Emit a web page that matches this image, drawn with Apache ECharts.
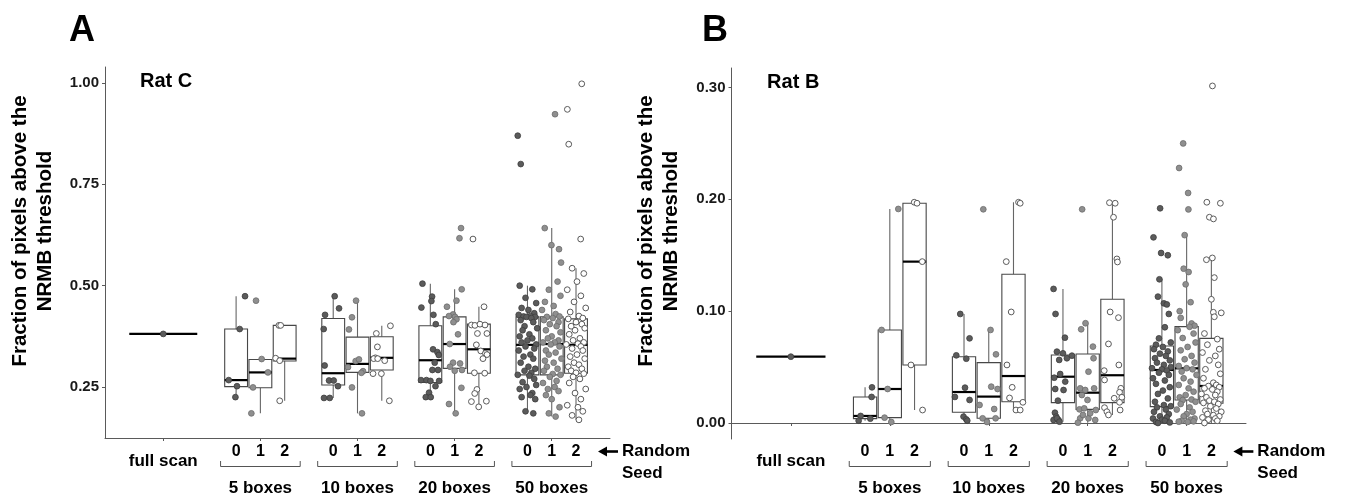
<!DOCTYPE html>
<html><head><meta charset="utf-8">
<script src="https://cdn.jsdelivr.net/npm/echarts@6/dist/echarts.min.js"></script>
<style>html,body{margin:0;padding:0;background:#fff}#c{width:1351px;height:497px}</style>
</head><body><div id="c"></div>
<script>
// ---------------- DATA ----------------
const CATEGORIES = ['full scan', '5 boxes', '10 boxes', '20 boxes', '50 boxes'];
const SEEDS = ['0', '1', '2'];
const PANELS = ['A', 'B'];
const RATS = ['Rat C', 'Rat B'];
const TICKS_A = [0.25, 0.50, 0.75, 1.00];
const TICKS_B = [0.00, 0.10, 0.20, 0.30];
const FULL_SCAN = [0.381, 0.0593];

// box stats per seed: [lowWhisker, q1, median, q3, highWhisker] for 5/10/20/50 boxes
const BOX_A_SEED0 = [[0.226,0.251,0.267,0.393,0.474],[0.223,0.255,0.284,0.419,0.474],[0.225,0.261,0.316,0.401,0.505],[0.185,0.28,0.354,0.423,0.50]];
const BOX_A_SEED1 = [[0.185,0.248,0.286,0.318,0.318],[0.185,0.286,0.307,0.373,0.463],[0.185,0.296,0.356,0.423,0.491],[0.177,0.28,0.356,0.423,0.642]];
const BOX_A_SEED2 = [[0.216,0.314,0.320,0.402,0.402],[0.216,0.292,0.322,0.374,0.401],[0.201,0.284,0.343,0.405,0.448],[0.169,0.284,0.354,0.418,0.543]];
const BOX_B_SEED0 = [[0.0021,0.0039,0.0063,0.0233,0.0319],[0.0021,0.0096,0.0277,0.0593,0.0975],[0.0012,0.0182,0.0414,0.0608,0.1199],[0.0,0.0146,0.0474,0.0689,0.1285]];
const BOX_B_SEED1 = [[0.0009,0.0048,0.0304,0.0832,0.1914],[0.0009,0.0042,0.0236,0.054,0.0832],[0.0003,0.0122,0.0271,0.0617,0.0892],[0.001,0.0206,0.0489,0.0862,0.168]];
const BOX_B_SEED2 = [[0.0116,0.0519,0.1443,0.1965,0.1974],[0.0116,0.019,0.042,0.133,0.1974],[0.0072,0.0182,0.0427,0.1106,0.197],[0.0,0.0176,0.0331,0.0757,0.1476]];

// jittered points: [jitter offset (category units), value]
const A0_5 = [[0.092,0.474],[0.037,0.393],[-0.076,0.267],[0.009,0.252],[-0.007,0.225]];
const A1_5 = [[-0.045,0.463],[0.013,0.319],[0.078,0.286],[-0.076,0.249],[-0.093,0.185]];
const A2_5 = [[-0.059,0.402],[-0.041,0.402],[-0.093,0.321],[-0.051,0.315],[-0.051,0.216]];
const A0_10 = [[0.015,0.474],[0.06,0.444],[-0.084,0.428],[-0.098,0.393],[-0.088,0.303],[-0.043,0.266],[0.005,0.266],[0.049,0.252],[-0.095,0.223],[-0.036,0.223]];
const A1_10 = [[-0.015,0.463],[-0.057,0.422],[-0.088,0.392],[-0.019,0.314],[0.015,0.318],[-0.098,0.299],[0.057,0.289],[0.04,0.285],[-0.057,0.249],[0.046,0.185]];
const A2_10 = [[0.089,0.401],[-0.056,0.382],[-0.045,0.349],[-0.066,0.322],[-0.083,0.320],[0.03,0.315],[-0.09,0.283],[-0.004,0.283],[0.078,0.216],[-0.042,0.320]];
const A0_20 = [[-0.081,0.505],[0.018,0.473],[0.011,0.462],[-0.092,0.446],[0.032,0.428],[0.056,0.405],[0.028,0.343],[0.073,0.336],[0.087,0.329],[0.045,0.31],[0.021,0.292],[0.079,0.292],[-0.096,0.267],[-0.04,0.267],[0.001,0.265],[0.09,0.265],[0.053,0.252],[-0.013,0.236],[-0.047,0.225],[0.004,0.225]];
const A1_20 = [[0.066,0.642],[0.05,0.617],[0.073,0.491],[0.019,0.463],[-0.079,0.448],[-0.016,0.429],[-0.058,0.425],[0.004,0.423],[0.019,0.417],[-0.012,0.41],[0.035,0.38],[-0.05,0.356],[-0.016,0.31],[0.056,0.308],[-0.047,0.30],[0.001,0.29],[0.076,0.292],[0.07,0.248],[-0.058,0.208],[0.011,0.185]];
const A2_20 = [[-0.061,0.615],[0.053,0.448],[-0.077,0.403],[-0.041,0.402],[0.011,0.405],[0.063,0.403],[-0.015,0.382],[0.083,0.382],[-0.026,0.354],[0.019,0.339],[0.067,0.333],[0.083,0.33],[0.042,0.32],[-0.046,0.285],[0.06,0.284],[-0.02,0.244],[-0.043,0.234],[0.077,0.215],[-0.077,0.214],[-0.002,0.201]];
const A0_50 = [[-0.10,0.87],[-0.069,0.80],
 [-0.08,0.50],[0.05,0.491],[-0.02,0.47],[0.09,0.457],[-0.06,0.445],[0.01,0.44],[0.07,0.432],[-0.09,0.428],[0.03,0.425],[-0.04,0.424],[0.08,0.423],[-0.01,0.423],
 [0.04,0.42],[-0.07,0.415],[0.06,0.41],[-0.03,0.40],[0.10,0.395],[-0.05,0.39],[0.02,0.38],[-0.08,0.375],[0.05,0.37],[0.0,0.365],[-0.06,0.36],[0.09,0.355],
 [-0.02,0.35],[0.07,0.345],[-0.09,0.34],[0.03,0.33],[-0.04,0.325],[0.06,0.32],[-0.07,0.31],[0.01,0.30],[0.08,0.295],[-0.03,0.29],[0.04,0.285],[-0.10,0.28],
 [0.02,0.278],[0.07,0.27],[-0.05,0.262],[0.09,0.255],[-0.01,0.25],[-0.08,0.245],[0.05,0.235],[0.03,0.23],[-0.06,0.225],[0.08,0.22],[-0.02,0.19],[0.06,0.185]];
const A1_50 = [[0.034,0.923],[-0.072,0.642],[-0.003,0.60],[0.075,0.59],[0.096,0.557],
 [0.06,0.51],[-0.03,0.49],[0.09,0.475],[-0.07,0.46],[0.02,0.45],[-0.10,0.44],[0.04,0.43],[0.08,0.424],
 [-0.05,0.423],[0.01,0.42],[-0.08,0.415],[0.07,0.41],[-0.02,0.405],[0.05,0.40],[-0.06,0.39],[0.09,0.385],[0.0,0.375],[-0.04,0.37],[0.07,0.365],[-0.09,0.36],[0.03,0.36],
 [-0.01,0.355],[0.08,0.35],[-0.06,0.34],[0.04,0.335],[-0.03,0.33],[0.10,0.32],[-0.07,0.315],[0.02,0.31],[-0.05,0.30],[0.06,0.295],[-0.08,0.29],[0.01,0.282],
 [0.09,0.28],[-0.02,0.275],[0.05,0.265],[-0.09,0.26],[0.03,0.25],[-0.04,0.245],[0.07,0.24],[-0.06,0.23],[0.0,0.22],[0.08,0.20],[-0.03,0.185],[0.04,0.177]];
const A2_50 = [[0.059,0.998],[-0.089,0.935],[-0.075,0.849],[0.048,0.615],
 [-0.04,0.543],[0.08,0.53],[0.01,0.51],[-0.09,0.49],[0.05,0.475],[-0.02,0.46],[0.10,0.445],[-0.06,0.435],[0.03,0.425],[0.07,0.42],
 [-0.08,0.418],[0.0,0.41],[0.06,0.405],[-0.05,0.40],[0.09,0.395],[-0.01,0.39],[-0.07,0.38],[0.04,0.37],[-0.03,0.365],[0.08,0.36],[0.02,0.357],[-0.10,0.355],
 [0.05,0.35],[-0.04,0.345],[0.07,0.34],[0.01,0.33],[-0.06,0.325],[0.09,0.32],[-0.02,0.31],[0.03,0.305],[-0.08,0.30],[0.06,0.295],[-0.05,0.29],[0.0,0.285],
 [0.08,0.283],[-0.03,0.275],[0.04,0.27],[-0.07,0.26],[0.10,0.245],[-0.01,0.235],[0.05,0.22],[-0.09,0.205],[0.02,0.20],[0.07,0.19],[-0.04,0.18],[0.03,0.169]];

const B0_5 = [[0.07,0.0319],[0.066,0.0233],[-0.045,0.0063],[0.053,0.0039],[-0.065,0.0021]];
const B1_5 = [[0.086,0.1914],[-0.083,0.0832],[-0.022,0.0304],[-0.053,0.0048],[0.015,0.0009]];
const B2_5 = [[-0.003,0.1974],[0.025,0.1965],[0.078,0.1443],[-0.036,0.0519],[0.081,0.0116]];
const B0_10 = [[-0.038,0.0975],[0.056,0.0757],[-0.078,0.0605],[0.023,0.0575],[0.01,0.0316],[-0.092,0.0233],[0.056,0.0206],[-0.005,0.0057],[0.023,0.0033],[0.033,0.0021]];
const B1_10 = [[-0.055,0.1911],[0.018,0.0832],[0.073,0.0614],[0.089,0.0304],[0.025,0.0325],[-0.093,0.0161],[0.055,0.0125],[-0.062,0.0042],[0.069,0.0042],[-0.018,0.0009]];
const B2_10 = [[0.051,0.1974],[0.068,0.1965],[-0.073,0.1443],[-0.023,0.0993],[-0.066,0.0519],[-0.013,0.0319],[-0.04,0.0224],[0.095,0.0185],[0.025,0.0116],[0.068,0.0116]];
const B0_20 = [[-0.095,0.1199],[-0.075,0.0975],[0.02,0.0763],[-0.061,0.0638],[0.0,0.0623],[0.04,0.0579],[0.091,0.0602],[-0.038,0.0564],[-0.088,0.0405],[-0.028,0.0438],[0.023,0.037],[-0.078,0.0304],[0.006,0.0295],[-0.051,0.02],[-0.081,0.0092],[-0.068,0.0057],[-0.095,0.0027],[-0.045,0.0027],[-0.061,0.0042],[-0.035,0.0012]];
const B1_20 = [[-0.056,0.1911],[-0.022,0.0892],[-0.066,0.0838],[0.053,0.0683],[0.059,0.0579],[0.008,0.0459],[0.065,0.031],[-0.076,0.031],[-0.025,0.0295],[-0.059,0.025],[-0.083,0.0122],[-0.035,0.0131],[0.082,0.0116],[0.008,0.0042],[-0.076,0.0042],[-0.099,0.0003],[0.025,0.0087],[-0.002,0.0206],[-0.048,0.0072],[0.076,0.0027]];
const B2_20 = [[-0.03,0.197],[0.028,0.1965],[0.011,0.184],[0.045,0.1467],[0.051,0.144],[-0.023,0.0993],[0.061,0.0942],[-0.04,0.0707],[-0.08,0.0385],[0.065,0.0519],[0.085,0.031],[0.072,0.0275],[0.095,0.023],[0.018,0.0221],[-0.08,0.0137],[0.078,0.0116],[-0.056,0.0101],[-0.04,0.0072],[0.072,0.0185],[-0.083,0.0468]];
const B0_50 = [[-0.018,0.192],[-0.085,0.166],[-0.008,0.152],[0.06,0.150],
 [-0.025,0.1285],[-0.04,0.113],[0.02,0.107],[0.05,0.106],[0.07,0.0975],[0.03,0.0856],[-0.03,0.0757],[0.09,0.072],[-0.06,0.07],
 [0.01,0.068],[-0.08,0.066],[0.06,0.064],[-0.02,0.062],[0.04,0.06],[-0.07,0.058],[0.08,0.056],[-0.05,0.054],[0.02,0.052],[0.09,0.05],[-0.10,0.049],[0.0,0.048],
 [0.05,0.047],[-0.03,0.045],[0.07,0.043],[-0.09,0.04],[0.03,0.038],[-0.06,0.035],[0.08,0.032],[0.01,0.029],[-0.04,0.026],[0.06,0.022],[-0.07,0.019],[0.02,0.016],[0.09,0.015],
 [-0.05,0.014],[0.04,0.012],[-0.08,0.01],[0.07,0.008],[-0.02,0.006],[0.05,0.005],[-0.09,0.004],[0.0,0.003],[0.03,0.002],[-0.06,0.001],[0.08,0.0005],[-0.04,0.0]];
const B1_50 = [[-0.035,0.25],[-0.076,0.228],[0.015,0.2057],[0.018,0.191],
 [-0.02,0.168],[-0.03,0.138],[0.02,0.135],[-0.01,0.124],[0.04,0.108],[-0.07,0.10],[-0.06,0.094],[0.05,0.089],[0.08,0.087],
 [0.03,0.086],[-0.09,0.083],[0.07,0.08],[-0.04,0.076],[0.09,0.072],[0.01,0.068],[-0.06,0.065],[0.05,0.06],[-0.02,0.057],[0.08,0.054],[-0.08,0.051],[0.0,0.049],
 [0.06,0.048],[-0.05,0.046],[0.10,0.043],[-0.03,0.04],[0.04,0.037],[-0.08,0.034],[0.02,0.031],[0.07,0.028],[-0.01,0.025],[-0.07,0.023],[0.05,0.021],[-0.04,0.0205],
 [0.09,0.019],[-0.06,0.017],[0.03,0.014],[-0.10,0.012],[0.06,0.01],[0.0,0.008],[-0.03,0.006],[0.08,0.004],[0.04,0.003],[-0.05,0.002],[0.07,0.0015],[-0.08,0.0012],[0.01,0.001]];
const B2_50 = [[0.011,0.3014],[-0.046,0.1974],[0.091,0.1965],[-0.02,0.184],[0.021,0.1825],
 [0.01,0.1476],[-0.05,0.146],[0.03,0.13],[0.0,0.1106],[0.02,0.099],[0.10,0.0985],[0.03,0.095],[-0.07,0.08],
 [0.06,0.075],[-0.04,0.07],[0.08,0.066],[-0.09,0.063],[0.04,0.06],[-0.02,0.056],[0.07,0.052],[-0.06,0.048],[0.09,0.044],[-0.08,0.04],[0.02,0.036],[0.05,0.034],
 [-0.03,0.033],[0.08,0.032],[-0.07,0.031],[0.01,0.03],[0.06,0.028],[-0.10,0.026],[0.04,0.025],[-0.05,0.023],[0.09,0.021],[-0.02,0.02],[0.03,0.019],[-0.08,0.018],
 [0.07,0.017],[-0.01,0.015],[0.05,0.013],[-0.06,0.011],[0.10,0.01],[-0.04,0.008],[0.02,0.007],[0.08,0.006],[-0.09,0.005],[0.04,0.004],[-0.03,0.003],[0.06,0.002],[-0.07,0.0]];

// ---------------- CHART ----------------
const PTS = [
  [[A0_5, A0_10, A0_20, A0_50], [A1_5, A1_10, A1_20, A1_50], [A2_5, A2_10, A2_20, A2_50]],
  [[B0_5, B0_10, B0_20, B0_50], [B1_5, B1_10, B1_20, B1_50], [B2_5, B2_10, B2_20, B2_50]]
];
const BOXES = [[BOX_A_SEED0, BOX_A_SEED1, BOX_A_SEED2], [BOX_B_SEED0, BOX_B_SEED1, BOX_B_SEED2]];
const TICKS = [TICKS_A, TICKS_B];
const YRANGE = [[0.12418, 1.03947], [-0.01431, 0.31744]];
const SLOT = 0.25, BOXW = 0.235, FULLW = 0.7;
const FONT = '"Liberation Sans", Arial, Helvetica, sans-serif';
const PT_STYLE = [
  {color: '#5b5b5b', borderColor: '#3d3d3d', borderWidth: 0.8},
  {color: '#8f8f8f', borderColor: '#6c6c6c', borderWidth: 0.8},
  {color: '#ffffff', borderColor: '#5a5a5a', borderWidth: 1}
];

const chart = echarts.init(document.getElementById('c'), null, {renderer: 'canvas'});

function renderBox(params, api) {
  const x = api.value(0), lo = api.value(1), q1 = api.value(2), md = api.value(3), q3 = api.value(4), hi = api.value(5), w = api.value(6) / 2;
  const tl = api.coord([x - w, q3]), br = api.coord([x + w, q1]);
  const cx = api.coord([x, q1])[0];
  const pHi = api.coord([x, hi]), pLo = api.coord([x, lo]);
  const mL = api.coord([x - w, md]), mR = api.coord([x + w, md]);
  const ch = [];
  if (hi > q3) ch.push({type: 'line', shape: {x1: cx, y1: pHi[1], x2: cx, y2: tl[1]}, style: {stroke: '#666', lineWidth: 1.1}});
  if (lo < q1) ch.push({type: 'line', shape: {x1: cx, y1: br[1], x2: cx, y2: pLo[1]}, style: {stroke: '#666', lineWidth: 1.1}});
  if (q3 > q1) ch.push({type: 'rect', shape: {x: tl[0], y: tl[1], width: br[0] - tl[0], height: br[1] - tl[1]}, style: {fill: '#fff', stroke: '#474747', lineWidth: 1.1}});
  ch.push({type: 'line', shape: {x1: mL[0], y1: mL[1], x2: mR[0], y2: mR[1]}, style: {stroke: '#000', lineWidth: 2.2}});
  return {type: 'group', children: ch};
}

const grids = [
  {left: 105, top: 67, width: 505, height: 371},
  {left: 731.5, top: 68, width: 514.5, height: 371}
];
const xAxes = [], yAxes = [], series = [];
[0, 1].forEach(p => {
  xAxes.push({
    type: 'value', gridIndex: p, min: 0.4, max: 5.6,
    axisLine: {show: true, lineStyle: {color: '#5a5a5a', width: 1}},
    axisTick: {show: true, length: 3, customValues: [1, 2, 3, 4, 5], lineStyle: {color: '#5a5a5a'}},
    axisLabel: {show: false}, splitLine: {show: false}
  });
  yAxes.push({
    type: 'value', gridIndex: p, min: YRANGE[p][0], max: YRANGE[p][1],
    axisLine: {show: true, lineStyle: {color: '#5a5a5a', width: 1}},
    axisTick: {show: true, length: 3, customValues: TICKS[p], lineStyle: {color: '#5a5a5a'}},
    axisLabel: {customValues: TICKS[p], formatter: v => v.toFixed(2), fontSize: 15, fontWeight: 'bold', color: '#1a1a1a', fontFamily: FONT, margin: 6},
    splitLine: {show: false}
  });
  // boxes
  const boxData = [[1, FULL_SCAN[p], FULL_SCAN[p], FULL_SCAN[p], FULL_SCAN[p], FULL_SCAN[p], FULLW]];
  BOXES[p].forEach((seedBoxes, s) => {
    seedBoxes.forEach((b, g) => {
      boxData.push([g + 2 + (s - 1) * SLOT, b[0], b[1], b[2], b[3], b[4], BOXW]);
    });
  });
  series.push({type: 'custom', xAxisIndex: p, yAxisIndex: p, renderItem: renderBox, data: boxData, encode: {x: 0, y: 1}, z: 2, silent: true});
  // points
  PTS[p].forEach((seedGroups, s) => {
    const data = [];
    if (s === 0) data.push([1, FULL_SCAN[p]]);
    seedGroups.forEach((grp, g) => {
      grp.forEach(pt => data.push([g + 2 + (s - 1) * SLOT + pt[0], pt[1]]));
    });
    series.push({type: 'scatter', name: 'seed ' + SEEDS[s], xAxisIndex: p, yAxisIndex: p, data,
      symbol: 'circle', symbolSize: 5.8, itemStyle: Object.assign({opacity: 1}, PT_STYLE[s]), z: 5, silent: true});
  });
});

chart.setOption({animation: false, grid: grids, xAxis: xAxes, yAxis: yAxes, series});

// annotation text placed through the axes' own scales
const G = [];
const bold = (size) => ({fontFamily: FONT, fontWeight: 'bold', fontSize: size, fill: '#000'});
const LETTER_X = [69, 702];
[0, 1].forEach(p => {
  const X = v => chart.convertToPixel({xAxisIndex: p}, v);
  const Y = v => chart.convertToPixel({yAxisIndex: p}, v);
  const axisX = X(0.4);
  const yTop = Y(YRANGE[p][1]);
  // panel letter
  G.push({type: 'text', x: LETTER_X[p], y: 31, style: Object.assign({text: PANELS[p], align: 'left', verticalAlign: 'middle'}, bold(36))});
  // rat label
  G.push({type: 'text', x: X(0.76), y: yTop + 14.5, style: Object.assign({text: RATS[p], align: 'left', verticalAlign: 'middle'}, bold(20))});
  // y-axis title, two rotated lines
  G.push({type: 'text', x: axisX - 85, y: 231, rotation: Math.PI / 2, style: Object.assign({text: 'Fraction of pixels above the', align: 'center', verticalAlign: 'middle'}, bold(20.5))});
  G.push({type: 'text', x: axisX - 60, y: 231, rotation: Math.PI / 2, style: Object.assign({text: 'NRMB threshold', align: 'center', verticalAlign: 'middle'}, bold(20.5))});
  // category labels
  G.push({type: 'text', x: X(1), y: 461.5, style: Object.assign({text: CATEGORIES[0], align: 'center', verticalAlign: 'middle'}, bold(17))});
  for (let k = 2; k <= 5; k++) {
    SEEDS.forEach((sd, s) => {
      G.push({type: 'text', x: X(k + (s - 1) * SLOT), y: 451.5, style: Object.assign({text: sd, align: 'center', verticalAlign: 'middle'}, bold(16))});
    });
    const l = X(k - 0.41), r = X(k + 0.41);
    G.push({type: 'polyline', shape: {points: [[l, 461], [l, 466.5], [r, 466.5], [r, 461]]}, style: {stroke: '#555', lineWidth: 1, fill: null}});
    G.push({type: 'text', x: X(k), y: 488.5, style: Object.assign({text: CATEGORIES[k - 1], align: 'center', verticalAlign: 'middle'}, bold(17))});
  }
  // arrow + "Random Seed"
  const a0 = X(5 + SLOT) + 22, a1 = a0 + 20, ay = 451.5;
  G.push({type: 'line', shape: {x1: a0 + 7, y1: ay, x2: a1, y2: ay}, style: {stroke: '#000', lineWidth: 2.6}});
  G.push({type: 'polygon', shape: {points: [[a0, ay], [a0 + 9, ay - 5], [a0 + 9, ay + 5]]}, style: {fill: '#000'}});
  G.push({type: 'text', x: a1 + 4, y: 451.5, style: Object.assign({text: 'Random', align: 'left', verticalAlign: 'middle'}, bold(17))});
  G.push({type: 'text', x: a1 + 4, y: 473.5, style: Object.assign({text: 'Seed', align: 'left', verticalAlign: 'middle'}, bold(17))});
});
chart.setOption({graphic: G});
</script>
</body></html>
